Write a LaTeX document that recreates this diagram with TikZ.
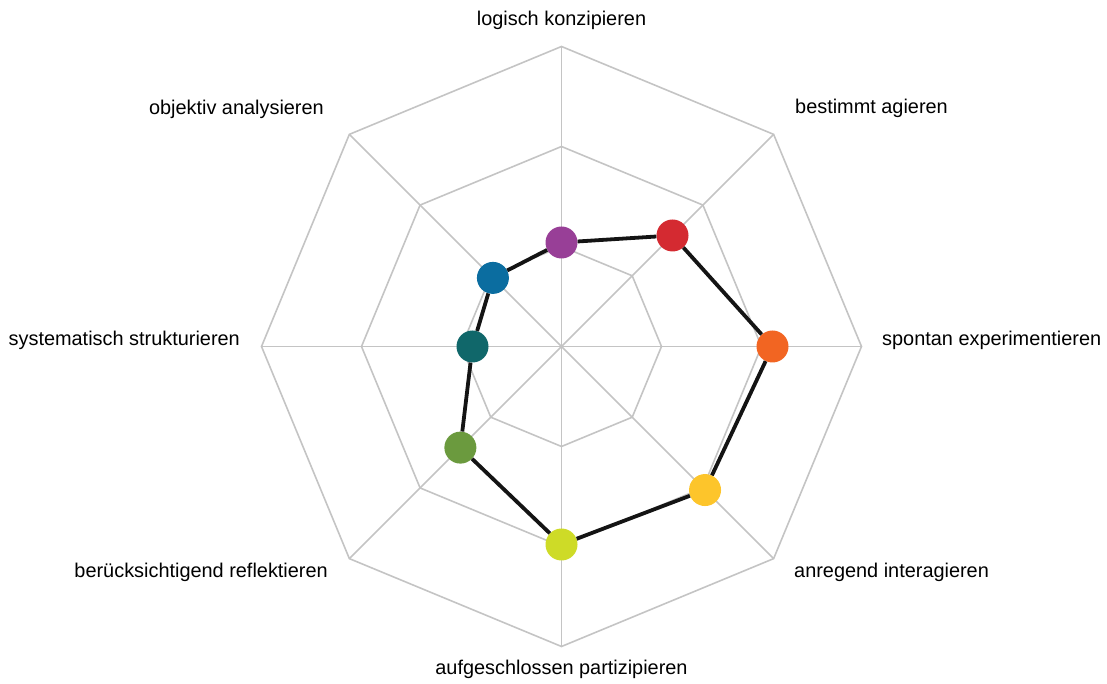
\documentclass[tikz,border=0pt]{standalone}
\usepackage{fontspec}
\setmainfont{Liberation Sans}
\definecolor{webgrey}{HTML}{C4C4C4}
\definecolor{kpurple}{HTML}{983F97}
\definecolor{kred}{HTML}{D42A31}
\definecolor{korange}{HTML}{F26522}
\definecolor{kyellow}{HTML}{FDC52B}
\definecolor{klime}{HTML}{CEDB27}
\definecolor{kgreen}{HTML}{6B9A3E}
\definecolor{kteal}{HTML}{10676A}
\definecolor{kblue}{HTML}{0B6DA0}
\tikzset{dot/.style = {circle, inner sep = 0, minimum size = 32}}
\tikzset{web/.style = {draw = webgrey, line width = 1.6}}
\tikzset{link/.style = {draw = black!92, line width = 3.8}}
\tikzset{lbl/.style = {inner sep = 0, font = \fontsize{19.9}{24}\selectfont}}
\usetikzlibrary{calc}

\begin{document}
\begin{tikzpicture}[x=1pt, y=1pt]
    \useasboundingbox (-561.5,-337.5) rectangle (545.5,346.5);
    % web
    \draw[web] (90:100) -- (45:100) -- (0:100) -- (-45:100) -- (-90:100) -- (-135:100) -- (180:100) -- (135:100) -- cycle;
    \draw[web] (90:200) -- (45:200) -- (0:200) -- (-45:200) -- (-90:200) -- (-135:200) -- (180:200) -- (135:200) -- cycle;
    \draw[web] (90:300) -- (45:300) -- (0:300) -- (-45:300) -- (-90:300) -- (-135:300) -- (180:300) -- (135:300) -- cycle;
    \draw[web] (90:300) -- (-90:300);
    \draw[web] (45:300) -- (-135:300);
    \draw[web] (0:300) -- (180:300);
    \draw[web] (135:300) -- (-45:300);
    % values
    \node[dot, fill = kpurple] (logisch) at (90:104) {};
    \node[dot, fill = kred] (bestimmt) at (45:157) {};
    \node[dot, fill = korange] (spontan) at (0:211) {};
    \node[dot, fill = kyellow] (anregend) at (-45:203) {};
    \node[dot, fill = klime] (aufgeschlossen) at (-90:198) {};
    \node[dot, fill = kgreen] (beruecksichtigend) at (-135:143) {};
    \node[dot, fill = kteal] (systematisch) at (180:89) {};
    \node[dot, fill = kblue] (objektiv) at (135:97) {};
    \draw[link] (logisch) -- (bestimmt);
    \draw[link] (bestimmt) -- (spontan);
    \draw[link] (spontan) -- (anregend);
    \draw[link] (anregend) -- (aufgeschlossen);
    \draw[link] (aufgeschlossen) -- (beruecksichtigend);
    \draw[link] (beruecksichtigend) -- (systematisch);
    \draw[link] (systematisch) -- (objektiv);
    \draw[link] (objektiv) -- (logisch);
    % labels
    \node[lbl, anchor = base] (tLogisch) at (0,320.5) {logisch konzipieren};
    \node[lbl, anchor = base west] (tBestimmt) at (233.5,232.5) {bestimmt agieren};
    \node[lbl, anchor = base west] (tSpontan) at (320.5,0.5) {spontan experimentieren};
    \node[lbl, anchor = base west] (tAnregend) at (232.5,-231.5) {anregend interagieren};
    \node[lbl, anchor = base] (tAufgeschlossen) at (0,-327.5) {aufgeschlossen partizipieren};
    \node[lbl, anchor = base east] (tBeruecksichtigend) at (-233.5,-231.5) {berücksichtigend reflektieren};
    \node[lbl, anchor = base east] (tSystematisch) at (-321.5,0.5) {systematisch strukturieren};
    \node[lbl, anchor = base east] (tObjektiv) at (-237.5,231.5) {objektiv analysieren};
\end{tikzpicture}
\end{document}
